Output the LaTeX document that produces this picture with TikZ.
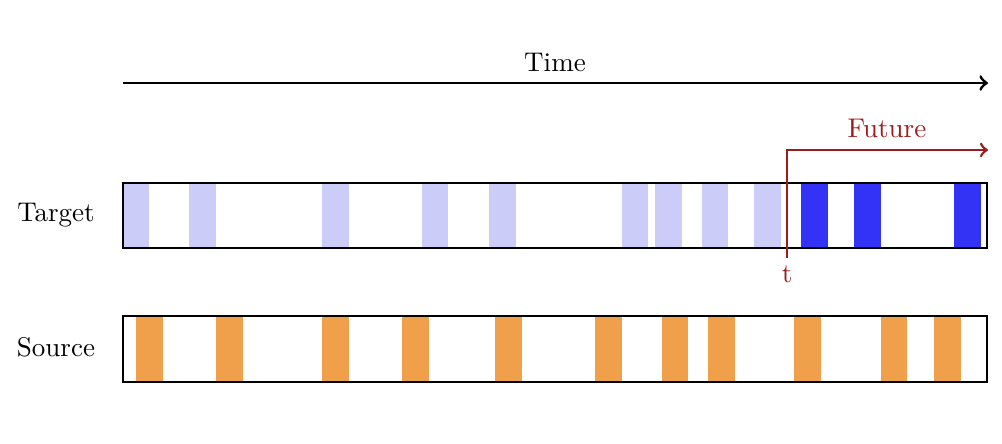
\documentclass[tikz,border=0pt]{standalone}
\usetikzlibrary{arrows}
\definecolor{lightbar}{RGB}{204,204,248}
\definecolor{darkbar}{RGB}{51,51,245}
\definecolor{orangebar}{RGB}{240,160,74}
\definecolor{futred}{RGB}{155,28,28}
\tikzset{
  boxline/.style={draw=black, line width=1pt},
  pastbar/.style={fill=lightbar, draw=none},
  futbar/.style={fill=darkbar, draw=none},
  srcbar/.style={fill=orangebar, draw=none},
  lbl/.style={anchor=base, inner sep=0pt, font=\fontsize{10}{12}\selectfont},
}
\begin{document}
\begin{tikzpicture}[x=0.37pt, y=-0.37pt]
\useasboundingbox (0,0) rectangle (1002,444);
% time arrow
\coordinate (ts) at (123,83);
\coordinate (te) at (988,83);
\draw[->, line width=1.1pt] (ts) -- (te);
\node[lbl] (time) at (555,72) {Time};
% target bars
\foreach \a/\b in {123/149.3, 189.3/215.7, 322.3/349, 422.3/448.3, 489/515.7, 621.7/648.3, 655/681.7, 701.7/728, 754.3/781}
  \fill[pastbar] (\a,184) rectangle (\b,247);
\foreach \a/\b in {801/827.7, 854/880.7, 954/980.7}
  \fill[futbar] (\a,184) rectangle (\b,247);
\draw[boxline] (123,183) rectangle (987,248);
\node[lbl] (target) at (56,222) {Target};
% source bars
\foreach \a/\b in {136/162.7, 216/242.7, 322.3/349, 402.3/429, 495.3/522, 595/621.7, 661.7/688.3, 708.3/735, 794.3/821, 880.7/907.3, 934/960.7}
  \fill[srcbar] (\a,317) rectangle (\b,381);
\draw[boxline] (123,316) rectangle (987,382);
\node[lbl] (source) at (56,357) {Source};
% future
\coordinate (tb) at (787,258);
\coordinate (tc) at (787,150);
\coordinate (fe) at (988,150);
\draw[futred, line width=1pt, ->] (tb) -- (tc) -- (fe);
\node[lbl, text=futred] (future) at (887,138) {Future};
\node[lbl, text=futred] (tlabel) at (787,283) {t};
\end{tikzpicture}
\end{document}
